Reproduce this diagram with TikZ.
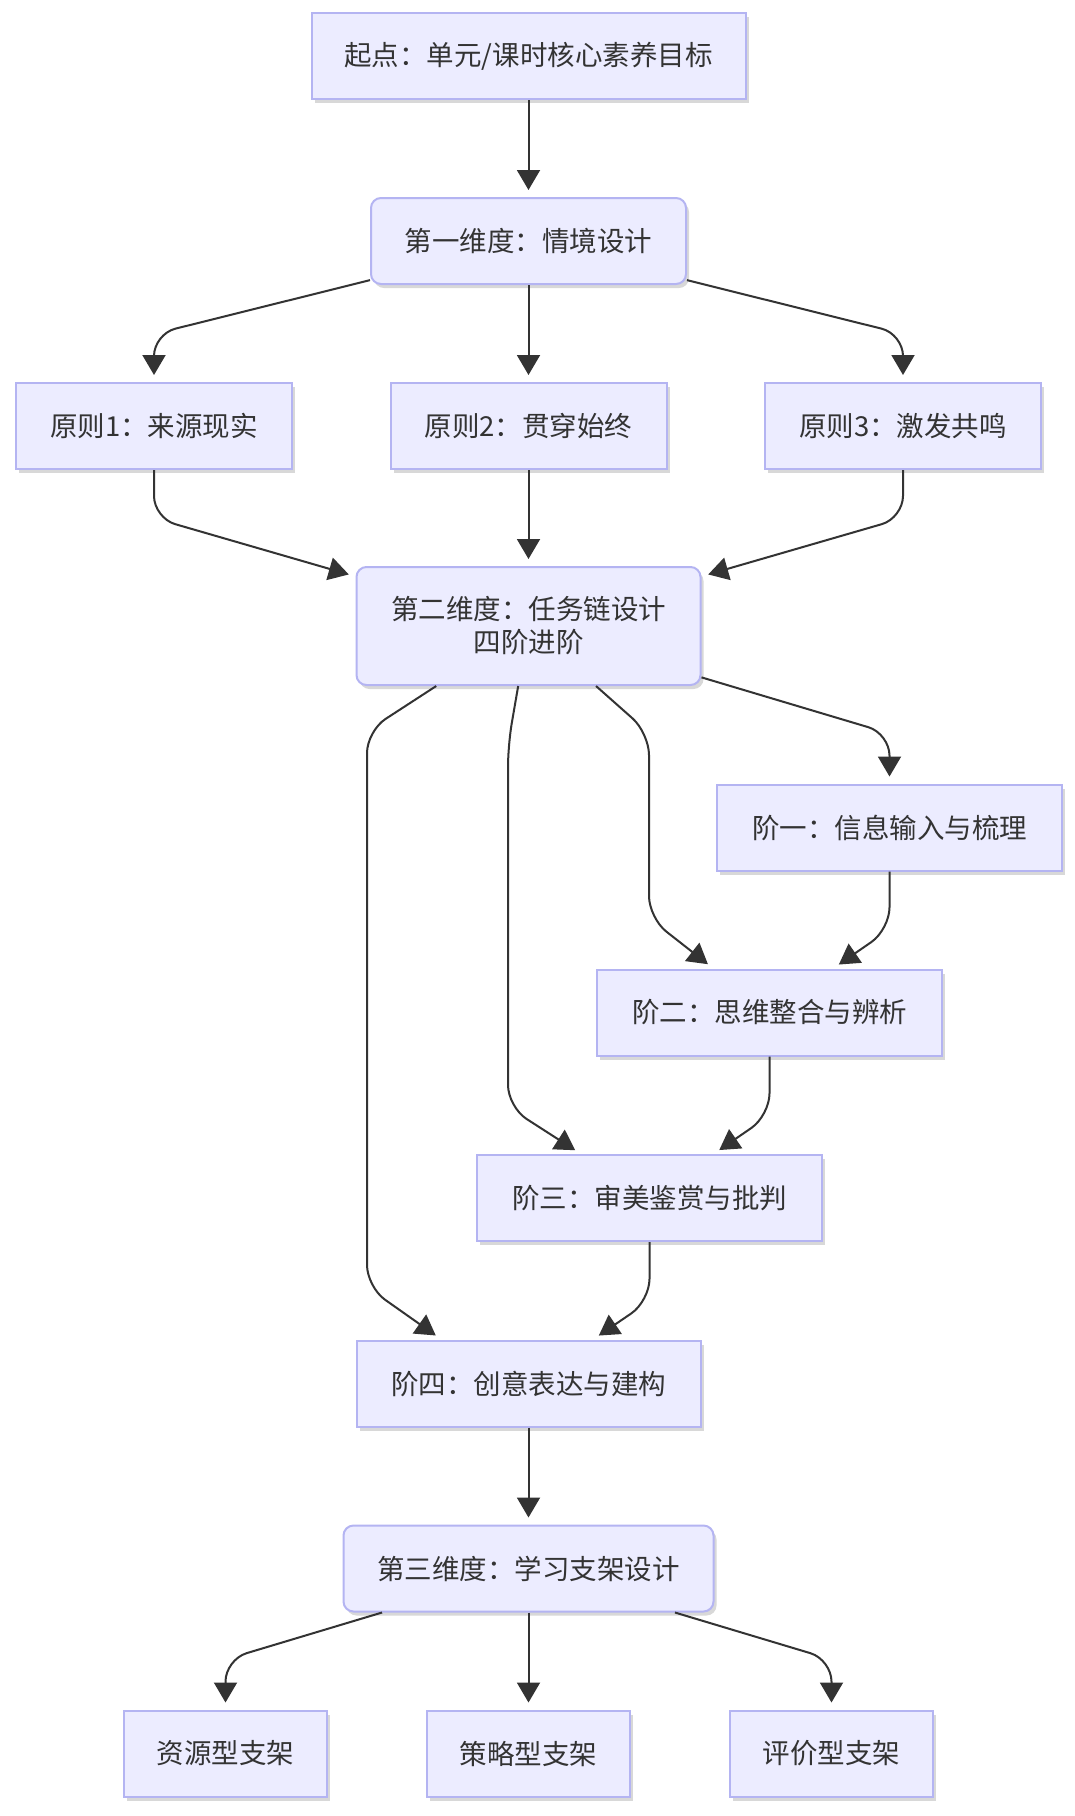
\documentclass[tikz,border=0pt]{standalone}
\usepackage{fontspec}
\newfontfamily\cjk{Noto Sans CJK SC}
\usetikzlibrary{arrows.meta,shadows}
\definecolor{boxfill}{HTML}{ECECFF}
\definecolor{boxline}{HTML}{B4B4F2}
\definecolor{ink}{HTML}{333333}
\begin{document}
\begin{tikzpicture}[x=1pt,y=-1pt,>={Triangle[length=20pt,width=23pt]},
	box/.style={draw=boxline,fill=boxfill,line width=2pt,text=ink,font=\cjk\fontsize{27.5}{33}\selectfont,align=center,inner sep=0pt,minimum height=86pt,drop shadow={shadow xshift=3pt,shadow yshift=-4pt,opacity=.25,fill=black!60}},
	rbox/.style={box,rounded corners=10pt},
	link/.style={->,ink,line width=2pt,shorten >=7pt,rounded corners=22pt}]
		\path[use as bounding box,fill=white] (0,0) rectangle (1075,1816);
		\node[box,minimum width=434pt] (start) at (528.5,56) {起点：单元/课时核心素养目标};
		\node[rbox,minimum width=315pt] (dim1) at (528.5,241) {第一维度：情境设计};
		\node[box,minimum width=276pt] (p1) at (154,426) {原则1：来源现实};
		\node[box,minimum width=276pt] (p2) at (528.5,426) {原则2：贯穿始终};
		\node[box,minimum width=276pt] (p3) at (903,426) {原则3：激发共鸣};
		\node[rbox,minimum width=344pt,minimum height=118pt] (dim2) at (528.5,626) {第二维度：任务链设计\\四阶进阶};
		\node[box,minimum width=345pt] (s1) at (889.5,827.5) {阶一：信息输入与梳理};
		\node[box,minimum width=345pt] (s2) at (769.5,1012.5) {阶二：思维整合与辨析};
		\node[box,minimum width=345pt] (s3) at (649.5,1198) {阶三：审美鉴赏与批判};
		\node[box,minimum width=344pt] (s4) at (528.5,1383.5) {阶四：创意表达与建构};
		\node[rbox,minimum width=370pt] (dim3) at (528.5,1568.5) {第三维度：学习支架设计};
		\node[box,minimum width=203pt] (r1) at (225.5,1753.5) {资源型支架};
		\node[box,minimum width=203pt] (r2) at (528.5,1753.5) {策略型支架};
		\node[box,minimum width=203pt] (r3) at (831.5,1753.5) {评价型支架};
		\draw[link] (start) -- (dim1);
		\draw[link] (dim1) -- ([yshift=48pt]p1.north) -- (p1);
		\draw[link] (dim1) -- (p2);
		\draw[link] (dim1) -- ([yshift=48pt]p3.north) -- (p3);
		\draw[link] (p1) -- ([yshift=-48pt]p1.south) -- (dim2);
		\draw[link] (p2) -- (dim2);
		\draw[link] (p3) -- ([yshift=-48pt]p3.south) -- (dim2);
		\draw[link] (dim2) -- ([yshift=50pt]s1.north) -- (s1);
		\draw[link] (dim2) -- (649,733) -- (649,918) -- (s2);
		\draw[link] (dim2) -- (508,745) -- (508,1107) -- (s3);
		\draw[link] (dim2) -- (367,731) -- (367,1287) -- ([xshift=-87pt]s4.north);
		\draw[link] (s1) -- ([yshift=-58pt]s1.south) -- (s2);
		\draw[link] (s2) -- ([yshift=-59pt]s2.south) -- (s3);
		\draw[link] (s3) -- ([yshift=-59pt]s3.south) -- (s4);
		\draw[link] (s4) -- (dim3);
		\draw[link] (dim3) -- ([yshift=50pt]r1.north) -- (r1);
		\draw[link] (dim3) -- (r2);
		\draw[link] (dim3) -- ([yshift=50pt]r3.north) -- (r3);
	\end{tikzpicture}
\end{document}
